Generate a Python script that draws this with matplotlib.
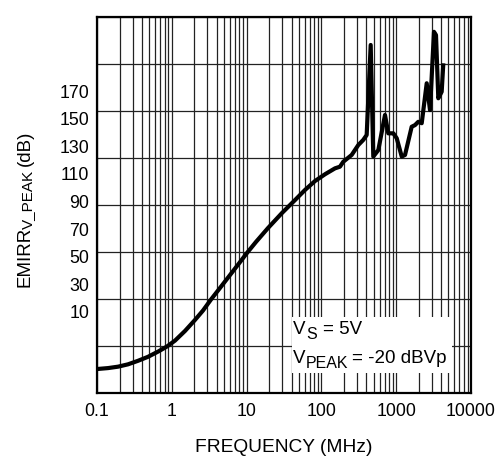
import matplotlib
matplotlib.use("Agg")
import matplotlib.pyplot as plt
import numpy as np
from matplotlib.ticker import LogLocator, FixedLocator, NullFormatter
from matplotlib.patches import Rectangle

plt.rcParams['font.family'] = ['Liberation Sans', 'DejaVu Sans']

# Frequency (MHz)
freq = [0.1, 0.1403, 0.1909, 0.2597, 0.3533, 0.4806, 0.6537, 0.8627, 1.104, 1.501,
        2.043, 2.613, 3.344, 4.410, 6.000, 8.163, 10.12, 13.36, 19.33, 29.73, 44.37,
        60.36, 82.1, 112, 152, 177, 196, 254, 311, 363, 403, 456, 494, 577,
        708, 784, 915, 1016, 1186, 1312, 1611, 1783, 1973, 2193, 2558, 2831, 3199,
        3404, 3656, 4055, 4266]
# Curve height in plot grid units (0..160)
emirr = [10.2, 10.6, 11.2, 12.2, 13.7, 15.4, 17.6, 19.8, 22.3, 26.4,
         31.1, 35.1, 39.8, 44.7, 50.2, 55.7, 59.6, 64.3, 70.2, 76.6, 82.1,
         86.4, 90.2, 93.1, 95.6, 96.3, 98.4, 101.3, 105.5, 107.7, 109.8, 148.1,
         100.6, 103.4, 118.3, 110.5, 110.5, 108.4, 100.6, 101.3, 113.3, 114.0, 115.4,
         114.8, 131.8, 120.4, 153.7, 152.3, 125.4, 128.2, 140.3]

ytick_labels = ['10', '30', '50', '70', '90', '110', '130', '150', '170']
ytick_pos = [34.5 + i * 11.75 for i in range(len(ytick_labels))]
ygrid = [0, 20, 40, 60, 80, 100, 120, 140, 160]
xtick_vals = [0.1, 1, 10, 100, 1000, 10000]
xtick_labels = ['0.1', '1', '10', '100', '1000', '10000']

W, H = 500, 458
fig = plt.figure(figsize=(W / 100, H / 100), dpi=100)
ax = fig.add_axes([97 / W, 65 / H, 374 / W, 376 / H])
ax.set_xscale('log')
ax.set_xlim(0.1, 10000)
ax.set_ylim(0, 160)

ax.plot(freq, emirr, color='black', lw=3.0, zorder=3, solid_joinstyle='round',
        solid_capstyle='butt')

ax.set_xticks(xtick_vals)
ax.set_xticklabels(xtick_labels)
ax.xaxis.set_minor_locator(LogLocator(base=10, subs=np.arange(2, 10)))
ax.xaxis.set_minor_formatter(NullFormatter())

ax.set_yticks(ytick_pos)
ax.set_yticklabels(ytick_labels)
ax.yaxis.set_minor_locator(FixedLocator(ygrid))

ax.tick_params(axis='both', which='both', length=0, labelsize=12.8, colors='black')
ax.tick_params(axis='x', pad=7)
ax.tick_params(axis='y', pad=5.5)

ax.set_axisbelow(True)
ax.grid(True, axis='x', which='both', color='#222222', lw=0.9)
ax.grid(True, axis='y', which='minor', color='#222222', lw=0.9)
ax.grid(False, axis='y', which='major')

for s in ax.spines.values():
    s.set_linewidth(1.6)
    s.set_zorder(4)

ax.add_patch(Rectangle((0.521, 0.053), 0.428, 0.149, transform=ax.transAxes,
                       facecolor='white', edgecolor='none', zorder=1.5))

renderer = fig.canvas.get_renderer()


def pieces_text(x_px, y_px, pieces, rotation=0):
    """Place text pieces (string, size, baseline drop px, gap px) one after another.
    Coordinates are display pixels from the bottom-left of the figure."""
    pos = 0.0
    for s, size, drop, gap in pieces:
        pos += gap
        if rotation == 0:
            x, y = x_px + pos, y_px - drop
        else:
            x, y = x_px + drop, y_px + pos
        t = fig.text(x / W, y / H, s, fontsize=size, rotation=rotation,
                     rotation_mode='anchor', ha='left', va='baseline', zorder=5)
        bb = t.get_window_extent(renderer)
        pos += bb.width if rotation == 0 else bb.height


# annotation inside the plot
pieces_text(293, H - 334, [('V', 13.5, 0, 0), ('S', 11.5, 5, 0.5), ('= 5V', 13.5, 0, 6)])
pieces_text(293, H - 363, [('V', 13.5, 0, 0), ('PEAK', 11.5, 5, 0.5),
                           ('= -20 dBVp', 13.5, 0, 4)])

# axis titles
fig.text(284 / W, 6 / H, 'FREQUENCY (MHz)', fontsize=13.8, ha='center', va='baseline')
pieces_text(29.5, H - 287, [('EMIRR', 13.5, 0, 0), ('V_PEAK', 11.0, 2.5, -2.5),
                            ('(dB)', 13.5, 0, 4)], rotation=90)

fig.savefig('out.png', dpi=100)
